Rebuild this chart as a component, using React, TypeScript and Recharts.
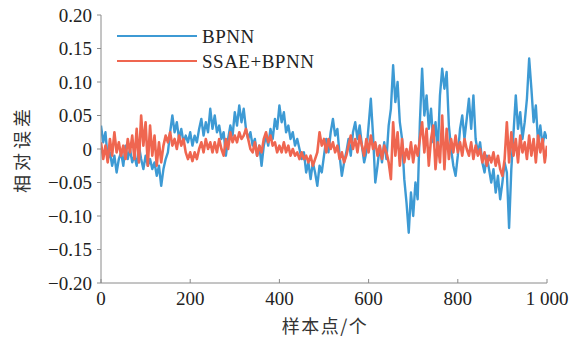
import { LineChart, Line, XAxis, YAxis, Label } from 'recharts';

// 样本间隔：每 5 个样本读一个点
const SAMPLE_STEP = 5;

const xTicks = [0, 200, 400, 600, 800, 1000];
const yTicks = [-0.2, -0.15, -0.1, -0.05, 0, 0.05, 0.1, 0.15, 0.2];

// BPNN 相对误差 (样本 0, 5, 10 ... 1000)
const bpnn = [
  0.035, 0.01, 0.025, -0.015, -0.005, -0.025, -0.01, -0.035, -0.015, -0.005,
  -0.025, 0.005, -0.015, 0.0, -0.02, -0.01, -0.025, 0.005, -0.015, -0.03,
  -0.01, -0.025, -0.015, -0.03, -0.02, -0.04, -0.025, -0.055, -0.03, -0.015,
  -0.005, 0.025, 0.05, 0.025, 0.04, 0.015, 0.03, 0.01, 0.02, 0.01,
  0.025, 0.005, 0.02, 0.01, 0.03, 0.045, 0.02, 0.04, 0.025, 0.06,
  0.03, 0.05, 0.025, 0.035, 0.015, 0.025, -0.01, 0.015, 0.035, 0.02,
  0.055, 0.035, 0.065, 0.04, 0.06, 0.03, 0.015, 0.025, 0.005, 0.015,
  -0.01, 0.005, -0.025, 0.005, 0.02, 0.005, 0.03, 0.015, 0.045, 0.03,
  0.065, 0.04, 0.055, 0.025, 0.035, 0.015, 0.025, 0.005, 0.015, 0.0,
  -0.015, -0.005, -0.035, -0.02, -0.045, -0.02, -0.035, -0.055, -0.025, -0.035,
  -0.01, 0.015, -0.005, 0.025, 0.045, 0.02, 0.03, -0.01, -0.04, -0.02,
  -0.005, 0.015, -0.01, 0.025, 0.04, 0.015, 0.035, 0.005, -0.02, -0.005,
  0.035, 0.075, 0.02, -0.05, -0.025, 0.005, -0.02, 0.01, -0.015, 0.035,
  0.06, 0.125, 0.07, 0.1, 0.04, 0.015, -0.045, -0.08, -0.125, -0.065,
  -0.1, -0.05, -0.075, 0.04, 0.12, 0.05, 0.08, 0.03, 0.06, 0.01,
  0.04, -0.005, 0.08, 0.12, 0.09, 0.115, 0.035, 0.0, -0.025, -0.04,
  -0.01, 0.03, 0.05, 0.015, 0.045, 0.075, 0.03, 0.08, 0.015, -0.005,
  0.01, -0.02, -0.035, -0.01, -0.03, -0.05, -0.03, -0.065, -0.04, -0.075,
  -0.05, -0.02, -0.035, -0.118, -0.03, 0.025, 0.08, 0.03, 0.055, 0.015,
  0.04, 0.075, 0.135, 0.09, 0.04, 0.065, 0.01, 0.035, 0.005, 0.025,
  0.015,
];

// SSAE+BPNN 相对误差
const ssaeBpnn = [
  0.01, -0.015, 0.005, -0.02, 0.015, -0.01, 0.025, -0.005, 0.01, -0.01,
  0.005, -0.015, 0.015, -0.005, 0.02, -0.015, 0.03, -0.02, 0.05, 0.005,
  0.04, -0.025, 0.035, -0.01, 0.02, -0.025, 0.01, -0.02, 0.005, 0.02,
  0.01, 0.025, 0.005, 0.015, 0.0, 0.02, 0.005, 0.015, -0.005, -0.015,
  -0.005, -0.018, -0.005, -0.015, 0.0, 0.01, -0.005, 0.015, 0.0, 0.01,
  -0.005, 0.01, -0.005, 0.015, 0.0, -0.01, 0.015, 0.0, 0.025, 0.01,
  0.02, 0.01, 0.025, 0.015, 0.02, 0.03, 0.015, 0.0, -0.005, 0.01,
  -0.01, 0.005, -0.005, 0.015, 0.025, 0.01, 0.02, 0.005, 0.01, -0.005,
  0.005, -0.005, 0.01, -0.005, 0.005, -0.01, 0.0, -0.01, -0.005, -0.015,
  -0.005, -0.015, -0.01, -0.02, -0.01, -0.025, -0.015, -0.005, 0.025, 0.005,
  0.015, -0.005, 0.015, 0.0, 0.01, -0.005, 0.005, -0.015, -0.005, -0.02,
  -0.01, 0.005, 0.02, 0.0, 0.015, -0.005, 0.02, 0.005, -0.01, 0.015,
  -0.005, 0.02, 0.0, 0.01, -0.01, 0.005, -0.015, 0.005, -0.005, -0.02,
  -0.045, 0.04, -0.01, 0.025, -0.025, 0.015, -0.02, 0.0, -0.015, 0.01,
  -0.02, 0.005, -0.01, 0.015, 0.04, -0.005, 0.03, -0.025, 0.015, 0.035,
  -0.03, 0.01, -0.02, 0.05, -0.03, 0.03, -0.015, 0.015, -0.005, 0.02,
  -0.005, 0.01, -0.01, 0.015, 0.0, -0.01, 0.01, -0.015, 0.005, -0.01,
  0.0, -0.02, -0.005, -0.025, -0.01, -0.02, -0.005, -0.025, -0.01, -0.03,
  -0.04, -0.015, 0.04, -0.02, 0.025, -0.01, 0.015, -0.02, 0.02, -0.005,
  0.01, -0.015, 0.02, -0.01, 0.015, -0.02, 0.02, -0.005, 0.015, -0.02,
  0.005,
];

const data = bpnn.map((v, i) => ({
  sample: i * SAMPLE_STEP,
  bpnn: v,
  ssae: ssaeBpnn[i],
}));

const BLUE = '#3d9ad4';
const RED = '#ef6650';
const AXIS = '#8a8a8a';
const SERIF = '"Liberation Serif", "Times New Roman", serif';
const CJK = '"Noto Sans CJK SC", sans-serif';

const fmtY = (v: number) => {
  if (Math.abs(v) < 1e-9) return '0';
  const s = Math.abs(v).toFixed(2);
  return v < 0 ? '\u2212' + s : s;
};

const fmtX = (v: number) => (v === 1000 ? '1 000' : String(v));

const legendItems = [
  { name: 'BPNN', color: BLUE },
  { name: 'SSAE+BPNN', color: RED },
];

const tickStyle = { fill: '#222', fontFamily: SERIF, fontSize: 19 };

export default function App() {
  return (
    <div style={{ position: 'absolute', left: 0, top: 0, width: 582, height: 338, background: '#fff' }}>
      <style>{`
        .recharts-cartesian-axis-tick-value { font-family: ${SERIF}; font-size: 19px; fill: #222; }
      `}</style>
      <LineChart
        width={582}
        height={338}
        data={data}
        margin={{ top: 15, right: 35, bottom: 25, left: 0 }}
      >
        <XAxis
          dataKey="sample"
          type="number"
          domain={[0, 1000]}
          ticks={xTicks}
          interval={0}
          tickFormatter={fmtX}
          height={30}
          stroke={AXIS}
          tickSize={-4}
          tickMargin={13}
          tick={tickStyle}
          allowDataOverflow
        >
          <Label
            content={() => (
              <text x={325} y={333} textAnchor="middle" fontFamily={CJK} fontSize={18} fill="#333" letterSpacing={1.5}>
                样本点/个
              </text>
            )}
          />
        </XAxis>
        <YAxis
          type="number"
          domain={[-0.2, 0.2]}
          ticks={yTicks}
          interval={0}
          tickFormatter={fmtY}
          width={101}
          stroke={AXIS}
          tickSize={4}
          tickMargin={5}
          tick={tickStyle}
          allowDataOverflow
        >
          <Label
            content={() => (
              <text
                transform="translate(29, 149) rotate(-90)"
                textAnchor="middle"
                fontFamily={CJK}
                fontSize={18}
                fill="#333"
                letterSpacing={4}
              >
                相对误差
              </text>
            )}
          />
        </YAxis>
        <Line
          type="linear"
          dataKey="bpnn"
          name="BPNN"
          stroke={BLUE}
          strokeWidth={2.4}
          strokeLinejoin="round"
          dot={false}
          isAnimationActive={false}
        />
        <Line
          type="linear"
          dataKey="ssae"
          name="SSAE+BPNN"
          stroke={RED}
          strokeWidth={2.6}
          strokeLinejoin="round"
          dot={false}
          isAnimationActive={false}
        />
      </LineChart>
      {/* 图例放在绘图区左上角 */}
      <svg width={200} height={60} style={{ position: 'absolute', left: 117, top: 25 }}>
        {legendItems.map((it, i) => (
          <g key={it.name} transform={`translate(0, ${i * 25})`}>
            <line x1={0} x2={80} y1={11} y2={11} stroke={it.color} strokeWidth={2} />
            <text x={85} y={18} fontFamily={SERIF} fontSize={19} fill="#222" letterSpacing={0.5}>
              {it.name}
            </text>
          </g>
        ))}
      </svg>
    </div>
  );
}
